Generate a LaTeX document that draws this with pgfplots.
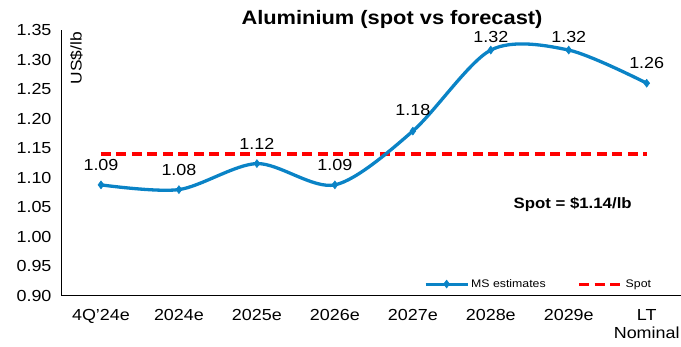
\documentclass[border=0pt]{standalone}
\usepackage{fontspec}
\setmainfont{Liberation Sans}[FakeStretch=1.12]
\usepackage{pgfplots}
\usepackage{pgfplotstable}
\pgfplotsset{compat=1.18}

\definecolor{msblue}{RGB}{10,131,198}
\definecolor{spotred}{RGB}{255,0,0}

\pgfplotsset{
  spotleg/.style={legend image code/.code={\draw[##1, line width=3pt] (0pt,0pt) -- (43pt,0pt);}},
  msleg/.style={legend image code/.code={\draw[##1, line width=3pt, mark repeat=2, mark phase=2]
    plot coordinates {(0pt,0pt) (21pt,0pt) (42pt,0pt)};}},
}

% x index, price (US$/lb), label lift
\pgfplotstableread{
x y dy
0 1.088 20
1 1.080 20
2 1.124 20
3 1.088 20
4 1.179 21
5 1.316 13
6 1.316 13
7 1.260 20
}\msdata

\pgfplotstableread{
x y
0 1.14
7 1.14
}\spotdata

\begin{document}
\begin{tikzpicture}[x=1pt,y=1pt]
\useasboundingbox (0,0) rectangle (681,347);
\begin{axis}[
  at={(62pt,51pt)}, anchor=south west,
  scale only axis, width=619pt, height=266pt,
  xmin=-0.5, xmax=7.44, ymin=0.9, ymax=1.35,
  axis x line*=bottom, axis y line*=left,
  axis line style={line width=1pt, black},
  major tick length=0pt,
  xtick={0,...,7},
  xticklabels={4Q'24e,2024e,2025e,2026e,2027e,2028e,2029e,{LT\\Nominal}},
  xticklabel style={align=center, anchor=north, yshift=-10pt,
    font=\fontsize{16}{18}\selectfont},
  ytick={0.9,0.95,...,1.36},
  yticklabel style={/pgf/number format/.cd, fixed, fixed zerofill, precision=2,
    /tikz/.cd, xshift=-7pt, font=\fontsize{16}{18}\selectfont},
  /pgf/number format/assume math mode=true,
  clip=false,
  legend style={draw=none, fill=none, inner sep=0pt, outer sep=0pt,
    at={(0.585,0.045)}, anchor=west, legend columns=2,
    font=\fontsize{11}{13}\selectfont,
    /tikz/every even column/.append style={column sep=30pt}},
  reverse legend,
]
\addplot[spotred, line width=3.4pt, dash pattern=on 10pt off 5.5pt, spotleg]
  table[x=x,y=y] {\spotdata};
\addlegendentry{Spot}

\addplot[msblue, line width=3.3pt, smooth, mark=diamond*, mark size=4pt,
  mark options={solid, line width=0.5pt}, msleg,
  nodes near coords,
  visualization depends on={\thisrow{dy}\as\dy},
  every node near coord/.append style={black, anchor=center, yshift=\dy pt,
    font=\fontsize{16}{18}\selectfont,
    /pgf/number format/.cd, fixed, fixed zerofill, precision=2},
  ]
  table[x=x,y=y] {\msdata};
\addlegendentry{MS estimates}

\node[font=\bfseries\fontsize{15}{17}\selectfont] at (axis cs:6.05,1.054) {Spot = \$1.14/lb};
\path (rel axis cs:0,1) ++(8pt,-2pt)
  node[rotate=90, anchor=north east, inner sep=0pt, font=\fontsize{15.5}{17}\selectfont] {US\$/lb};
\end{axis}
\node[font=\bfseries\fontsize{19.5}{22}\selectfont] at (392,328) {Aluminium (spot vs forecast)};
\end{tikzpicture}
\end{document}
